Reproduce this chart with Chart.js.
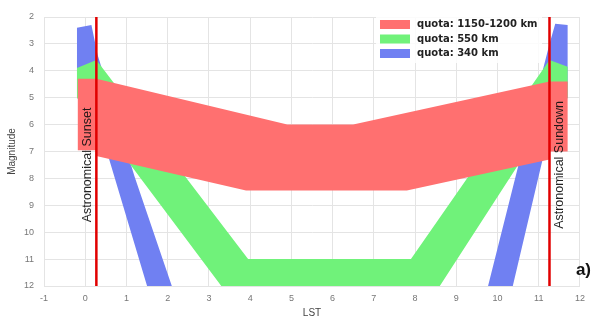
<!DOCTYPE html>
<html>
<head>
<meta charset="utf-8">
<script src="https://cdn.jsdelivr.net/npm/chart.js@4/dist/chart.umd.min.js"></script>
<style>
  html, body { margin: 0; padding: 0; background: #fff; }
  #wrap { width: 592px; height: 323px; }
</style>
</head>
<body>
<div id="wrap"><canvas id="c"></canvas></div>
<script>
// Visual magnitude of satellites against local sidereal time, by orbit altitude
const seriesLabels = ['quota: 1150-1200 km', 'quota: 550 km', 'quota: 340 km'];

// 1150-1200 km band outline (LST hours / magnitude)
const highLST = [-0.18, 0.27, 4.9, 6.5, 11.26, 11.7, 11.7, 11.26, 11.26, 7.8, 3.9, 0.27, 0.27, -0.18];
const highMag = [4.3, 4.3, 6.0, 6.0, 4.4, 4.4, 7.0, 7.0, 7.3, 8.45, 8.45, 7.17, 6.95, 6.95];

// 550 km band outline
const midLST = [-0.2, 0.27, 3.95, 7.9, 11.26, 11.7, 11.7, 11.26, 8.6, 3.3, 0.27, -0.2];
const midMag = [3.9, 3.6, 11.0, 11.0, 3.6, 3.85, 5.0, 5.7, 12, 12, 5.8, 5.0];

// 340 km band, evening branch
const lowEveLST = [-0.2, 0.15, 0.3, 1.2, 2.1, 1.5, 0.27, -0.2];
const lowEveMag = [2.4, 2.3, 3.4, 7.95, 12, 12, 5.7, 5.0];
// 340 km band, morning branch
const lowMornLST = [9.77, 10.49, 11.26, 11.4, 11.7, 11.7, 11.26, 11.09, 10.37];
const lowMornMag = [12, 7.61, 3.0, 2.25, 2.3, 5.0, 6.2, 7.32, 12];

// astronomical twilight limits
const twilightLST = [0.27, 11.26];
const twilightNames = ['Astronomical Sunset', 'Astronomical Sundown'];

const magRange = [2, 12];
const lstRange = [-1, 12];

const bandColors = ['rgb(255,112,112)', 'rgb(112,242,122)', 'rgb(112,128,242)'];

const toPoints = (xs, ys) => xs.map((v, i) => ({ x: v, y: ys[i] }));

function band(label, xs, ys, color, order) {
  return {
    label,
    data: toPoints(xs, ys),
    backgroundColor: color,
    borderColor: color,
    borderWidth: 0,
    pointRadius: 0,
    tension: 0,
    fill: 'shape',
    order
  };
}

function vline(t) {
  return {
    label: 'twilight',
    data: [{ x: t, y: magRange[0] }, { x: t, y: magRange[1] }],
    borderColor: 'rgb(225,0,0)',
    borderWidth: 2.5,
    pointRadius: 0,
    fill: false,
    order: 0
  };
}

const datasets = [
  band(seriesLabels[0], highLST, highMag, bandColors[0], 1),
  band(seriesLabels[1], midLST, midMag, bandColors[1], 2),
  band(seriesLabels[2], lowEveLST, lowEveMag, bandColors[2], 3),
  band(seriesLabels[2], lowMornLST, lowMornMag, bandColors[2], 3),
  ...twilightLST.map(vline)
];

const overlay = {
  id: 'overlay',
  afterDatasetsDraw(chart) {
    const { ctx, chartArea, scales: { x, y } } = chart;
    ctx.save();

    // labels along the twilight lines
    ctx.font = '12.5px "Liberation Sans", Arial, sans-serif';
    ctx.fillStyle = 'rgba(15,15,15,0.92)';
    ctx.textAlign = 'center';
    ctx.textBaseline = 'middle';
    twilightLST.forEach((t, i) => {
      const px = x.getPixelForValue(t) + (i === 0 ? -9 : 10);
      ctx.save();
      ctx.translate(px, y.getPixelForValue(7.5));
      ctx.rotate(-Math.PI / 2);
      ctx.fillText(twilightNames[i], 0, 0);
      ctx.restore();
    });

    // legend, top right inside the plot
    const bx = chartArea.right - 200;
    const by = chartArea.top + 3;
    ctx.fillStyle = 'rgba(255,255,255,0.85)';
    ctx.fillRect(bx - 4, by - 3, 166, 46);
    ctx.font = 'bold 10px "DejaVu Sans", sans-serif';
    ctx.textAlign = 'left';
    seriesLabels.forEach((lab, i) => {
      const yy = by + i * 14.5;
      ctx.fillStyle = bandColors[i];
      ctx.fillRect(bx, yy, 30, 9);
      ctx.fillStyle = '#222';
      ctx.fillText(lab, bx + 37, yy + 4.5);
    });

    // panel tag
    ctx.font = 'bold 17px "Liberation Sans", Arial, sans-serif';
    ctx.fillStyle = '#111';
    ctx.textAlign = 'right';
    ctx.fillText('a)', 591, 270);
    ctx.restore();
  }
};

new Chart(document.getElementById('c'), {
  type: 'line',
  data: { datasets },
  options: {
    responsive: true,
    maintainAspectRatio: false,
    animation: false,
    layout: { padding: { top: 17, right: 7, left: 0, bottom: 0 } },
    plugins: { legend: { display: false }, tooltip: { enabled: false } },
    scales: {
      x: {
        type: 'linear',
        min: lstRange[0],
        max: lstRange[1],
        afterFit: s => { s.height = 37; },
        ticks: { stepSize: 1, padding: 7, color: '#777', font: { family: 'Liberation Sans', size: 9 } },
        grid: { color: '#e4e4e4', drawTicks: false },
        border: { color: '#e4e4e4' },
        title: { display: true, text: 'LST', color: '#444', padding: { top: 0, bottom: 4 }, font: { family: 'Liberation Sans', size: 10 } }
      },
      y: {
        type: 'linear',
        reverse: true,
        min: magRange[0],
        max: magRange[1],
        afterFit: s => { s.width = 44; },
        ticks: { stepSize: 1, padding: 10, color: '#777', font: { family: 'Liberation Sans', size: 9 } },
        grid: { color: '#e4e4e4', drawTicks: false },
        border: { color: '#e4e4e4' },
        title: { display: true, text: 'Magnitude', color: '#444', padding: { top: 6, bottom: 4 }, font: { family: 'Liberation Sans', size: 10 } }
      }
    }
  },
  plugins: [overlay]
});
</script>
</body>
</html>
